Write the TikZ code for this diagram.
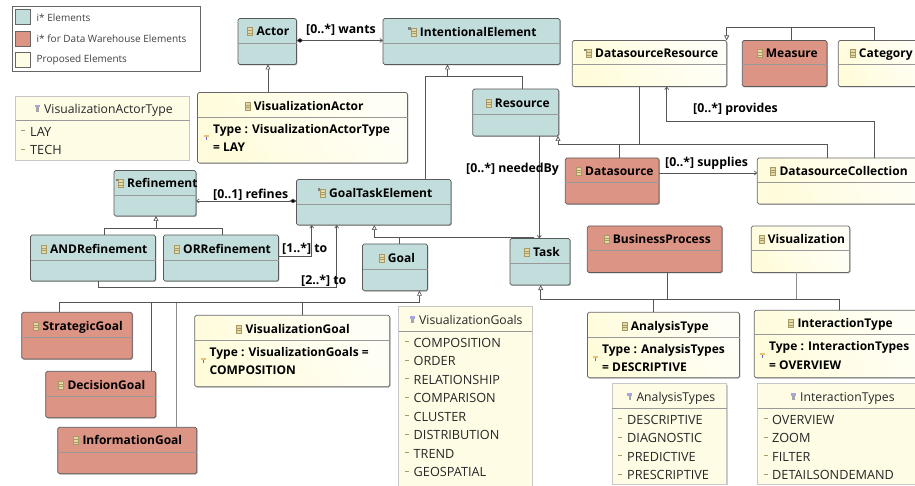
\documentclass[tikz,border=0pt]{standalone}
\usepackage{fontspec}
\setmainfont{Open Sans}
\usetikzlibrary{arrows.meta,shadows}
\definecolor{tealc}{HTML}{C2DEDC}
\definecolor{redc}{HTML}{DC9485}
\definecolor{yelc}{HTML}{FFFCDC}
\definecolor{enumc}{HTML}{FFFCE6}
\definecolor{linec}{HTML}{555555}
\definecolor{iconc}{HTML}{E4D9A8}
\definecolor{iconl}{HTML}{A89A62}
\tikzset{
 x=1pt,y=-1pt,
 ubase/.style={draw=#1,line width=.7pt,rounded corners=1.6pt,inner sep=0pt,outer sep=0pt,
   drop shadow={shadow xshift=.8pt,shadow yshift=-.8pt,opacity=.3,fill=black}},
 teal/.style={ubase=black!65,fill=tealc},
 red/.style={ubase=black!65,fill=redc},
 prop/.style={ubase=black!60,left color=yelc!25,right color=yelc,shading angle=-60},
 enum/.style={draw=black!22,line width=.7pt,inner sep=0pt,outer sep=0pt,fill=enumc,
   drop shadow={shadow xshift=.8pt,shadow yshift=-.8pt,opacity=.2,fill=black}},
 txtb/.style={anchor=west,inner sep=0pt,text height=10pt,text depth=1.2pt},
 ttl/.style={txtb,font=\fontsize{12}{13}\selectfont\bfseries},
 etl/.style={txtb,font=\fontsize{12.2}{13}\selectfont,text=black!85},
 lit/.style={txtb,font=\fontsize{12.7}{13}\selectfont,text=black!85},
 atr/.style={txtb,font=\fontsize{12}{13}\selectfont\bfseries},
 lab/.style={txtb,font=\fontsize{12.3}{13}\selectfont\bfseries},
 leg/.style={font=\fontsize{10}{12}\selectfont,anchor=west,inner sep=0pt,text=black!75},
 conn/.style={draw=linec,line width=.7pt},
 soft/.style={draw=black!45,line width=1pt},
 gen/.style={conn,-{Triangle[open,length=5pt,width=5pt,fill=white]}},
 ref/.style={conn,-{Straight Barb[length=2.6pt,width=4pt]}},
 comp/.style={conn,{Diamond[length=7pt,width=4.5pt,fill=black]}-{Straight Barb[length=2.6pt,width=4pt]}},
 sw/.style={draw=black!60,line width=.5pt,inner sep=0pt,minimum width=15pt,minimum height=15pt},
}
\newcommand{\ubox}[7]{% id, x1,y1,x2,y2,ydiv,style
 \pgfmathsetmacro{\bw}{#4-#2}\pgfmathsetmacro{\bh}{#5-#3}
 \pgfmathsetmacro{\bx}{(#2+#4)/2}\pgfmathsetmacro{\by}{(#3+#5)/2}
 \node[#7,minimum width=\bw pt,minimum height=\bh pt] (#1) at (\bx,\by) {};
 \draw[draw=black!40,line width=.6pt] (#1.west |- 0,#6) -- (#1.east |- 0,#6);
}
\newcommand{\cicon}[1]{%
 \fill[draw=iconl,line width=.3pt,fill=iconc] ([xshift=-9pt,yshift=-4pt]#1.west) rectangle ([xshift=-4pt,yshift=4pt]#1.west);
 \draw[iconl,line width=.3pt] ([xshift=-9pt,yshift=-1.3pt]#1.west) -- ([xshift=-4pt,yshift=-1.3pt]#1.west)
   ([xshift=-9pt,yshift=1.3pt]#1.west) -- ([xshift=-4pt,yshift=1.3pt]#1.west);
}
\newcommand{\aicon}[1]{\cicon{#1}%
 \fill[black!50] ([xshift=-11.5pt,yshift=2pt]#1.west) rectangle ([xshift=-9pt,yshift=4.5pt]#1.west);}
\newcommand{\eicon}[1]{%
 \fill[black!30!blue!35!white] ([xshift=-9pt,yshift=1.5pt]#1.west) rectangle ([xshift=-4pt,yshift=4pt]#1.west);
 \fill[black!35] ([xshift=-7.6pt,yshift=-3pt]#1.west) rectangle ([xshift=-5.4pt,yshift=1.5pt]#1.west);}
\newcommand{\aticon}[2]{%
 \fill[iconc!70!orange] (#1-2.5,#2-2) rectangle (#1+2.5,#2);
 \fill[blue!50!black!60] (#1-.5,#2) rectangle (#1+.5,#2+3);}
\newcommand{\dashm}[2]{\fill[iconl] (#1,#2-1.6) rectangle (#1+4,#2-.6);}
\begin{document}
\begin{tikzpicture}
\path[clip,use as bounding box] (0,0) rectangle (915,486);
% legend
\node[draw=black!60,line width=.6pt,inner sep=0pt,minimum width=188pt,minimum height=65pt] (legend) at (106.5,38.5) {};
\node[sw,fill=tealc] (sw1) at (23,17) {};
\node[sw,fill=redc] (sw2) at (23,38.3) {};
\node[sw,fill=enumc] (sw3) at (23,59.5) {};
\node[leg] (lg1) at (36.5,17.8) {i* Elements};
\node[leg] (lg2) at (36.5,38.8) {i* for Data Warehouse Elements};
\node[leg] (lg3) at (36.5,60) {Proposed Elements};
% boxes
\ubox{actor}{238}{18.5}{296.5}{64.5}{43.5}{teal}
\ubox{intent}{383}{18.5}{560}{64.5}{43.5}{teal}
\ubox{vactor}{197.5}{92.5}{407.5}{163}{117.5}{prop}
\ubox{vatype}{15.5}{96}{189.5}{160.5}{120}{enum}
\ubox{refin}{114}{170.5}{196}{216}{195}{teal}
\ubox{gte}{296.5}{179.5}{451}{225}{204}{teal}
\ubox{andr}{30.5}{235}{155.5}{281}{260}{teal}
\ubox{orr}{163.5}{235}{278.5}{281}{260}{teal}
\ubox{goal}{362.5}{244}{427.5}{290.7}{269}{teal}
\ubox{task}{510}{238.5}{570}{285}{263}{teal}
\ubox{resource}{472.7}{89}{558.7}{136}{114.5}{teal}
\ubox{dsres}{572.3}{40.5}{726.7}{86.5}{64.5}{prop}
\ubox{measure}{742.3}{40.5}{827}{86.5}{64.5}{red}
\ubox{category}{838.3}{40.5}{930}{86.5}{64.5}{prop}
\ubox{datasource}{565.3}{158}{659}{204}{182.5}{red}
\ubox{dscoll}{757.3}{158}{930}{204}{182.5}{prop}
\ubox{busproc}{587.3}{226}{722}{272.5}{250}{red}
\ubox{visu}{751.3}{226}{849.7}{272.5}{250}{prop}
\ubox{antype}{587.5}{312.3}{739.5}{377.7}{337}{prop}
\ubox{intype}{754.3}{310.3}{930}{377.7}{334.7}{prop}
\ubox{antypes}{612.3}{383.7}{726.7}{484}{408.3}{enum}
\ubox{intypes}{757.7}{383.7}{930}{484}{408.3}{enum}
\ubox{vgoals}{398.5}{306.7}{532.3}{500}{331.3}{enum}
\ubox{sgoal}{21.7}{312.3}{132.3}{359}{337.3}{red}
\ubox{dgoal}{45.7}{371.3}{155.7}{417.7}{396.3}{red}
\ubox{igoal}{57.7}{427.3}{196.7}{473.7}{452}{red}
\ubox{vgoal}{194.7}{315.3}{389.7}{386.7}{340.7}{prop}
% titles
\node[ttl] (t1) at (256.5,31.5) {Actor};\cicon{t1}
\node[ttl] (t2) at (419.7,32) {IntentionalElement};\aicon{t2}
\node[ttl] (t3) at (253.7,106) {VisualizationActor};\cicon{t3}
\node[etl] (t4) at (44,109) {VisualizationActorType};\eicon{t4}
\node[ttl] (t5) at (127,183.5) {Refinement};\aicon{t5}
\node[ttl] (t6) at (329,193) {GoalTaskElement};\aicon{t6}
\node[ttl] (t7) at (50,249) {ANDRefinement};\cicon{t7}
\node[ttl] (t8) at (183,249) {ORRefinement};\cicon{t8}
\node[ttl] (t9) at (387.7,258) {Goal};\cicon{t9}
\node[ttl] (t10) at (533,252) {Task};\cicon{t10}
\node[ttl] (t11) at (494.7,103) {Resource};\cicon{t11}
\node[ttl] (t12) at (595,53.5) {DatasourceResource};\aicon{t12}
\node[ttl] (t13) at (765.7,53.5) {Measure};\cicon{t13}
\node[ttl] (t14) at (858.7,53.5) {Category};\cicon{t14}
\node[ttl] (t15) at (585,171) {Datasource};\cicon{t15}
\node[ttl] (t16) at (779.3,171) {DatasourceCollection};\cicon{t16}
\node[ttl] (t17) at (612.7,239) {BusinessProcess};\cicon{t17}
\node[ttl] (t18) at (767.7,239) {Visualization};\cicon{t18}
\node[ttl] (t19) at (630.7,326) {AnalysisType};\cicon{t19}
\node[ttl] (t20) at (797.3,323.5) {InteractionType};\cicon{t20}
\node[ttl] (t21) at (42.3,326) {StrategicGoal};\cicon{t21}
\node[ttl] (t22) at (67.3,385) {DecisionGoal};\cicon{t22}
\node[ttl] (t23) at (82.3,440.5) {InformationGoal};\cicon{t23}
\node[ttl] (t24) at (245.3,329) {VisualizationGoal};\cicon{t24}
\node[etl] (t25) at (419,320) {VisualizationGoals};\eicon{t25}
\node[etl] (t26) at (636.3,397) {AnalysisTypes};\eicon{t26}
\node[etl] (t27) at (800,397) {InteractionTypes};\eicon{t27}
% attributes
\node[atr] (a1) at (213,129) {Type : VisualizationActorType};
\node[atr] (a1b) at (213,147.5) {= LAY};\aticon{206}{137}
\node[atr] (a2) at (209.5,352) {Type : VisualizationGoals =};
\node[atr] (a2b) at (209.5,370.5) {COMPOSITION};\aticon{203}{360}
\node[atr] (a3) at (602,349) {Type : AnalysisTypes};
\node[atr] (a3b) at (602,367) {= DESCRIPTIVE};\aticon{595}{358}
\node[atr] (a4) at (769,346.5) {Type : InteractionTypes};
\node[atr] (a4b) at (769,365) {= OVERVIEW};\aticon{762}{355}
% literals
\node[lit] (l1) at (30,132) {LAY};\dashm{21}{132}
\node[lit] (l2) at (30,150.5) {TECH};\dashm{21}{150.5}
\foreach \n/\yy/\tx in {3/343/COMPOSITION,4/361.5/ORDER,5/380/RELATIONSHIP,6/398.5/COMPARISON,7/417/CLUSTER,8/435.5/DISTRIBUTION,9/454/TREND,10/472.5/GEOSPATIAL}{
 \node[lit] (l\n) at (413.5,\yy) {\tx};\dashm{405}{\yy}}
\foreach \n/\yy/\tx in {11/420/DESCRIPTIVE,12/438.5/DIAGNOSTIC,13/457/PREDICTIVE,14/475.5/PRESCRIPTIVE}{
 \node[lit] (l\n) at (627,\yy) {\tx};\dashm{618.3}{\yy}}
\foreach \n/\yy/\tx in {15/420/OVERVIEW,16/438.5/ZOOM,17/457/FILTER,18/475.5/DETAILSONDEMAND}{
 \node[lit] (l\n) at (772,\yy) {\tx};\dashm{763.5}{\yy}}
% junction coordinates
\coordinate (jInt) at (447.5,76);
\coordinate (jRef) at (156,228.5);
\coordinate (jGte) at (374.3,237.3);
\coordinate (jRes) at (558,144.3);
\coordinate (jDsr) at (726.7,27);
\coordinate (jGoal) at (419.5,302.7);
\coordinate (jTask) at (540.7,299.3);
% connectors
\draw[gen] (268,0 |- vactor.north) -- (268,0 |- actor.south);
\draw[comp] (actor.east |- 0,40.5) -- (intent.west |- 0,40.5);
\draw[gen] (425.5,0 |- gte.north) |- (jInt) -- (jInt |- intent.south);
\draw[conn] (522.5,0 |- resource.north) |- (jInt);
\draw[gen] (104.5,0 |- andr.north) |- (jRef) -- (jRef |- refin.south);
\draw[conn] (222.3,0 |- orr.north) |- (jRef);
\draw[comp] (gte.west |- 0,201) -- (refin.east |- 0,201);
\draw[ref] (orr.east |- 0,256.7) -| (311.7,0 |- gte.south);
\draw[ref] (98.5,0 |- andr.south) |- (336.7,287.3) -- (336.7,0 |- gte.south);
\draw[gen] (533,0 |- task.north) |- (jGte) -- (jGte |- gte.south);
\draw[conn] (399.3,0 |- goal.north) |- (jGte);
\draw[ref] (539.3,0 |- resource.south) -- (539.3,0 |- task.north);
\draw[gen] (827,0 |- dscoll.north) |- (jRes) -- (jRes |- resource.south);
\draw[conn] (619.3,0 |- datasource.north) |- (jRes);
\draw[conn] (639.3,0 |- dsres.south) |- (jRes);
\draw[ref] (datasource.east |- 0,173) -- (dscoll.west |- 0,173);
\draw[ref] (874.3,0 |- dscoll.north) |- (666.7,121) -- (666.7,0 |- dsres.south);
\draw[gen] (874.3,0 |- category.north) |- (jDsr) -- (jDsr |- dsres.north);
\draw[conn] (791,0 |- measure.north) |- (jDsr);
\draw[gen] (59,0 |- sgoal.north) |- (jGoal) -- (jGoal |- goal.south);
\draw[conn] (151.7,0 |- dgoal.north) |- (jGoal);
\draw[soft] (176,0 |- igoal.north) -- (176,0 |- jGoal);
\draw[conn] (302.3,0 |- vgoal.north) |- (jGoal);
\draw[gen] (839.3,0 |- intype.north) |- (jTask) -- (jTask |- task.south);
\draw[conn] (653.3,0 |- antype.north) |- (jTask);
\draw[conn] (667.3,0 |- busproc.south) |- (jTask);
\draw[soft] (796,0 |- visu.south) -- (796,0 |- jTask);
% labels
\node[lab] (n1) at (306,29) {[0..*] wants};
\node[lab] (n2) at (213,194) {[0..1] refines};
\node[lab] (n3) at (282,248) {[1..*] to};
\node[lab] (n4) at (301,280) {[2..*] to};
\node[lab] (n5) at (466,168) {[0..*] neededBy};
\node[lab] (n6) at (665,162) {[0..*] supplies};
\node[lab] (n7) at (693,108.5) {[0..*] provides};
\end{tikzpicture}
\end{document}
